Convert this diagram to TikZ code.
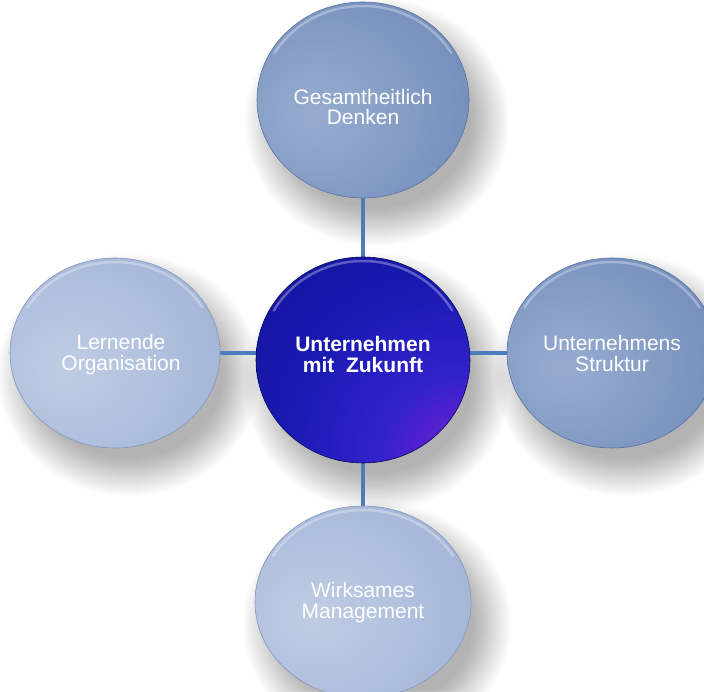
\documentclass[tikz,border=0pt]{standalone}
\usepackage{fontspec}
\setmainfont{Liberation Sans}
\usetikzlibrary{shapes.geometric}

\pgfdeclarelayer{shadows}
\pgfdeclarelayer{links}
\pgfsetlayers{shadows,links,main}

% glossy ball shadings
\definecolor{steelA}{HTML}{98ACD0}
\definecolor{steelB}{HTML}{849CC5}
\definecolor{steelC}{HTML}{6A86B6}
\definecolor{steelD}{HTML}{5873A2}
\definecolor{paleA}{HTML}{BFCCE4}
\definecolor{paleB}{HTML}{B0C0DE}
\definecolor{paleC}{HTML}{9CAFD2}
\definecolor{paleD}{HTML}{8497BD}
\definecolor{coreA}{HTML}{6A1ED0}
\definecolor{coreB}{HTML}{3322CC}
\definecolor{coreC}{HTML}{1A1AB4}
\definecolor{coreD}{HTML}{101092}
\definecolor{coreE}{HTML}{0A0A58}
\definecolor{linkblue}{HTML}{4A7EBB}

\pgfdeclareradialshading{steelball}{\pgfpoint{-12bp}{-4bp}}{%
  color(0bp)=(steelA); color(20bp)=(steelB); color(45bp)=(steelC);
  color(56bp)=(steelD); color(100bp)=(steelD)}
\pgfdeclareradialshading{paleball}{\pgfpoint{-12bp}{-4bp}}{%
  color(0bp)=(paleA); color(20bp)=(paleB); color(45bp)=(paleC);
  color(56bp)=(paleD); color(100bp)=(paleD)}
\pgfdeclareradialshading{coreball}{\pgfpoint{30bp}{-30bp}}{%
  color(0bp)=(coreA); color(9bp)=(coreA); color(20bp)=(coreB);
  color(36bp)=(coreC); color(60bp)=(coreD); color(88bp)=(coreE);
  color(100bp)=(coreE)}

\tikzset{
  ball/.style={ellipse, inner sep=0pt},
  steel/.style={ball, shading=steelball, draw=steelD, line width=.6pt},
  pale/.style={ball, shading=paleball, draw=paleD, line width=.6pt},
  core/.style={ball, shading=coreball, draw=coreE, line width=.6pt},
  caption/.style={text=white, align=center, inner sep=0pt,
    font=\fontsize{21}{21}\selectfont},
  link/.style={draw=linkblue, line width=4.5pt},
  gloss/.style={draw=white, opacity=.3, line width=2.5pt, line cap=round},
}

\begin{document}
\begin{tikzpicture}[x=1pt,y=1pt]
\useasboundingbox (0,0) rectangle (704,691);

% page and soft drop shadows
\begin{pgfonlayer}{shadows}
  \fill[white] (0,0) rectangle (704,691);
  \foreach \cx/\cy/\rx/\ry in {363/591/106/98, 363/331/107/103,
      115/338/105/95, 612/338/105/95, 363/89/108/96}{
    \foreach \k in {0,...,19}{
      \fill[black, opacity=.015] (\cx+14,\cy-22)
        ellipse [x radius=\rx-12+2*\k, y radius=\ry-12+2*\k];
    }
  }
\end{pgfonlayer}

% balls
\node[steel, minimum width=212pt, minimum height=196pt] (T) at (363,591) {};
\node[pale, minimum width=210pt, minimum height=190pt] (L) at (115,338) {};
\node[steel, minimum width=210pt, minimum height=190pt] (R) at (612,338) {};
\node[pale, minimum width=216pt, minimum height=192pt] (B) at (363,89) {};
\node[core, minimum width=214pt, minimum height=206pt] (C) at (363,331) {};

% captions
\node[caption] (Tt) at ([yshift=-7pt]T.center) {Gesamtheitlich\\Denken};
\node[caption] (Lt) at ([xshift=6pt,yshift=-2pt]L.center) {Lernende\\Organisation};
\node[caption] (Rt) at (R.center) {Unternehmens\\Struktur};
\node[caption] (Bt) at ([yshift=-1pt]B.center) {Wirksames\\Management};
\node[caption, font=\fontsize{21}{21}\selectfont\bfseries] (Ct)
  at ([yshift=6pt]C.center) {Unternehmen\\mit\ \ Zukunft};

% connectors
\begin{pgfonlayer}{links}
  \draw[link] (T) -- (C);
  \draw[link] (C) -- (B);
  \draw[link] (L) -- (L -| C);
  \draw[link] (R) -- (R -| C);
\end{pgfonlayer}

% rim highlights
\foreach \n/\rx/\ry in {T/106/98, L/105/95, R/105/95, B/108/96, C/107/103}{
  \draw[gloss] (\n.center) ++(150:{\rx-4} and {\ry-4})
    arc[start angle=150, end angle=30, x radius=\rx-4, y radius=\ry-4];
}
\end{tikzpicture}
\end{document}
